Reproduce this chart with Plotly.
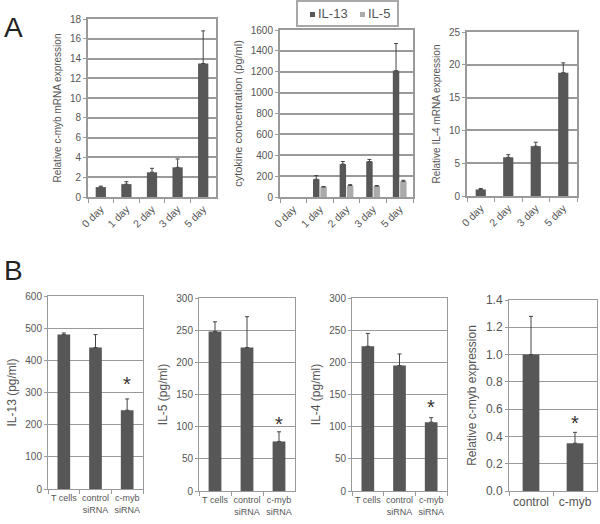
import plotly.graph_objects as go

# ---- data ----
days5 = ["0 day", "1 day", "2 day", "3 day", "5 day"]
cmyb_mrna = [1.0, 1.3, 2.5, 3.0, 13.5]
cmyb_mrna_err = [0.1, 0.25, 0.4, 0.85, 3.3]

il13_time = [None, 170, 315, 340, 1210]
il13_time_err = [None, 35, 25, 20, 260]
il5_time = [None, 95, 110, 105, 150]
il5_time_err = [None, 5, 8, 5, 10]

days4 = ["0 day", "2 day", "3 day", "5 day"]
il4_mrna = [1.0, 5.9, 7.6, 18.8]
il4_mrna_err = [0.15, 0.4, 0.6, 1.5]

groups = ["T cells", "control<br>siRNA", "c-myb<br>siRNA"]
il13_b = [480, 440, 245]
il13_b_err = [5, 40, 35]
il5_b = [248, 223, 77]
il5_b_err = [15, 48, 15]
il4_b = [225, 195, 107]
il4_b_err = [20, 18, 7]

ctrl_groups = ["control", "c-myb"]
cmyb_rel = [1.0, 0.35]
cmyb_rel_err = [0.28, 0.08]

legend_names = ["IL-13", "IL-5"]

DARK = "#575757"
LIGHT = "#ababab"
GRID = "#9a9a9a"
TXT = "#555555"
FONT = "Liberation Sans, Arial, sans-serif"

fig = go.Figure()

def eb(errs):
    return dict(type="data", array=errs, arrayminus=[0] * len(errs), symmetric=False,
                color="#444444", thickness=1, width=2)

def add_bar(x, y, err, ax, color=DARK, name=None, width=None):
    xa = "x" if ax == 1 else f"x{ax}"
    ya = "y" if ax == 1 else f"y{ax}"
    fig.add_trace(go.Bar(x=x, y=y, error_y=eb(err), marker=dict(color=color, line=dict(width=0)),
                         xaxis=xa, yaxis=ya, name=name, showlegend=False, width=width))

add_bar(days5, cmyb_mrna, cmyb_mrna_err, 1, width=0.4)
add_bar(days5, il13_time, il13_time_err, 2, name=legend_names[0])
add_bar(days5, il5_time, il5_time_err, 2, color=LIGHT, name=legend_names[1])
add_bar(days4, il4_mrna, il4_mrna_err, 3, width=0.37)
add_bar(groups, il13_b, il13_b_err, 4, width=0.4)
add_bar(groups, il5_b, il5_b_err, 5, width=0.4)
add_bar(groups, il4_b, il4_b_err, 6, width=0.4)
add_bar(ctrl_groups, cmyb_rel, cmyb_rel_err, 7, width=0.38)

W, H = 600, 524
def xd(a, b):
    return [a / W, b / W]
def yd(top, bot):
    return [1 - bot / H, 1 - top / H]
def px(x):
    return x / W
def py(y):
    return 1 - y / H

def xaxis(dom, anchor, rot, gw):
    return dict(domain=dom, anchor=anchor, showline=True, linecolor=GRID, linewidth=gw, mirror=True,
                ticks="outside", tickson="boundaries", ticklen=4, tickcolor=GRID, automargin=False,
                tickangle=-45 if rot else 0, tickfont=dict(size=10.5 if rot else 9, color=TXT, family=FONT),
                showgrid=False, fixedrange=True)

def yaxis(dom, anchor, rng, dtick, title, gw, tsize, fmt=None):
    d = dict(domain=dom, anchor=anchor, range=rng, dtick=dtick, showline=True, linecolor=GRID,
             linewidth=gw, mirror=True, ticks="outside", ticklen=3, tickcolor=GRID, automargin=False,
             showgrid=True, gridcolor=GRID, gridwidth=gw, zeroline=False,
             tickfont=dict(size=10, color=TXT, family=FONT),
             title=dict(text=title, font=dict(size=tsize, color=TXT, family=FONT), standoff=6))
    if fmt:
        d["tickformat"] = fmt
    return d

layout = dict(
    width=W, height=H, margin=dict(l=0, r=0, t=0, b=0, autoexpand=False),
    paper_bgcolor="white", plot_bgcolor="white",
    barmode="group", bargap=0.45, bargroupgap=0.12,
    font=dict(family=FONT, color=TXT),
    showlegend=False,
)

layout["xaxis"] = xaxis(xd(88, 216), "y", True, 2)
layout["yaxis"] = yaxis(yd(19, 197), "x", [0, 18], 2, "Relative c-myb mRNA expression", 2, 10)
layout["xaxis2"] = xaxis(xd(280, 413), "y2", True, 2)
layout["yaxis2"] = yaxis(yd(30, 197), "x2", [0, 1600], 200, "cytokine concentration (pg/ml)", 2, 11)
layout["xaxis3"] = xaxis(xd(467, 577), "y3", True, 2)
layout["yaxis3"] = yaxis(yd(32, 196), "x3", [0, 25], 5, "Relative IL-4 mRNA expression", 2, 10)
layout["xaxis4"] = xaxis(xd(48, 143), "y4", False, 1)
layout["yaxis4"] = yaxis(yd(296, 489), "x4", [0, 600], 100, "IL-13 (pg/ml)", 1, 12)
layout["xaxis5"] = xaxis(xd(199, 295), "y5", False, 1)
layout["yaxis5"] = yaxis(yd(298, 491), "x5", [0, 300], 50, "IL-5 (pg/ml)", 1, 12)
layout["xaxis6"] = xaxis(xd(352, 447), "y6", False, 1)
layout["yaxis6"] = yaxis(yd(298, 491), "x6", [0, 300], 50, "IL-4 (pg/ml)", 1, 12)
layout["xaxis7"] = xaxis(xd(509, 597), "y7", False, 1)
layout["xaxis7"]["tickfont"] = dict(size=12, color=TXT, family=FONT)
layout["yaxis7"] = yaxis(yd(300, 491), "x7", [0, 1.4], 0.2, "Relative c-myb expression", 1, 12, fmt=".1f")
layout["yaxis7"]["tickfont"] = dict(size=12, color=TXT, family=FONT)

star = dict(size=20, color="#333", family=FONT)
annots = [
    dict(text="A", x=px(2), y=py(28), xref="paper", yref="paper", xanchor="left", yanchor="middle",
         showarrow=False, font=dict(size=28, color="#222", family=FONT)),
    dict(text="B", x=px(2), y=py(270), xref="paper", yref="paper", xanchor="left", yanchor="middle",
         showarrow=False, font=dict(size=28, color="#222", family=FONT)),
    dict(text="*", x=groups[2], y=327, xref="x4", yref="y4", showarrow=False, font=star),
    dict(text="*", x=groups[2], y=104, xref="x5", yref="y5", showarrow=False, font=star),
    dict(text="*", x=groups[2], y=131, xref="x6", yref="y6", showarrow=False, font=star),
    dict(text="*", x=ctrl_groups[1], y=0.50, xref="x7", yref="y7", showarrow=False, font=star),
    dict(text=legend_names[0], x=px(316), y=py(14), xref="paper", yref="paper", xanchor="left",
         yanchor="middle", showarrow=False, font=dict(size=13, color=TXT, family=FONT)),
    dict(text=legend_names[1], x=px(366), y=py(14), xref="paper", yref="paper", xanchor="left",
         yanchor="middle", showarrow=False, font=dict(size=13, color=TXT, family=FONT)),
]
layout["annotations"] = annots

layout["shapes"] = [
    dict(type="rect", xref="paper", yref="paper", x0=px(297), x1=px(398), y0=py(26), y1=py(1),
         line=dict(color="#a8a8a8", width=2), fillcolor="white"),
    dict(type="rect", xref="paper", yref="paper", x0=px(310), x1=px(315), y0=py(17), y1=py(12),
         line=dict(width=0), fillcolor=DARK),
    dict(type="rect", xref="paper", yref="paper", x0=px(360), x1=px(365), y0=py(17), y1=py(12),
         line=dict(width=0), fillcolor=LIGHT),
]

fig.update_layout(**layout)
fig.write_html("out.html", config={"displayModeBar": False},
               post_script="document.body.style.margin='0';document.body.style.padding='0';")
